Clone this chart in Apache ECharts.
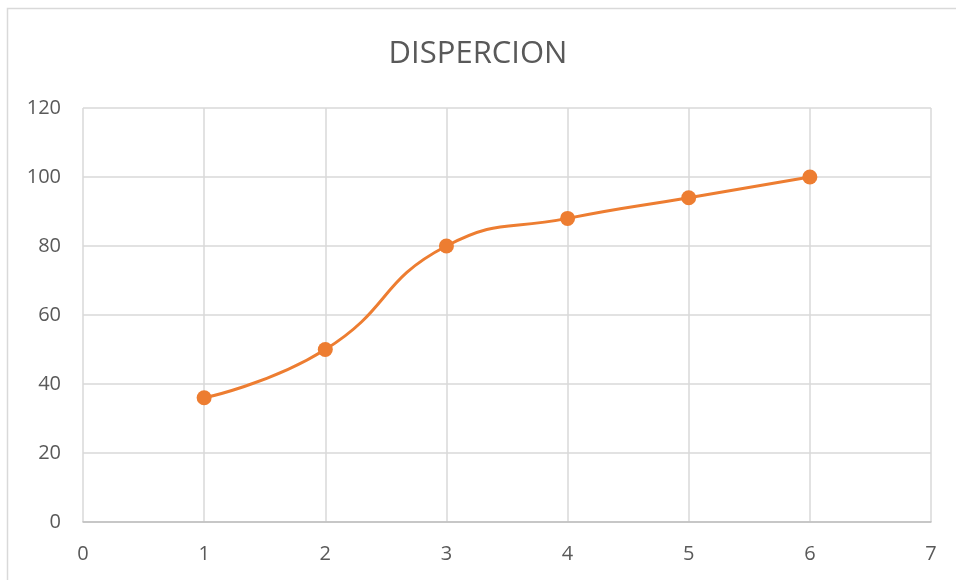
<!DOCTYPE html>
<html>
<head>
<meta charset="utf-8">
<script src="https://cdn.jsdelivr.net/npm/echarts@6/dist/echarts.min.js"></script>
<style>html,body{margin:0;padding:0;background:#fff;}#c{width:956px;height:580px;}</style>
</head>
<body>
<div id="c"></div>
<script>
const titleText = "DISPERCION";
const xValues = [1, 2, 3, 4, 5, 6];
const yValues = [36, 50, 80, 88, 94, 100];

const chart = echarts.init(document.getElementById('c'), null, {renderer: 'canvas'});
const txt = '#595959';
chart.setOption({
  animation: false,
  backgroundColor: '#fff',
  title: {
    text: titleText, left: 'center', top: 34,
    textStyle: {color: txt, fontSize: 31, fontWeight: 'normal', fontFamily: 'Open Sans'}
  },
  graphic: [{
    type: 'rect', shape: {x: 7.5, y: 8.5, width: 1000, height: 1000},
    style: {fill: 'none', stroke: '#d9d9d9', lineWidth: 1.5}, silent: true, z: -1
  }],
  grid: {left: 83, right: 25, top: 108, bottom: 58, containLabel: false},
  xAxis: {
    type: 'value', min: 0, max: 7, interval: 1,
    axisLine: {show: true, lineStyle: {color: '#bfbfbf', width: 1.5}},
    axisTick: {show: false},
    splitLine: {show: true, lineStyle: {color: '#d9d9d9', width: 1.5}},
    axisLabel: {color: txt, fontSize: 20, margin: 22, fontFamily: 'Open Sans'}
  },
  yAxis: {
    type: 'value', min: 0, max: 120, interval: 20,
    axisLine: {show: false},
    axisTick: {show: false},
    splitLine: {show: true, lineStyle: {color: '#d9d9d9', width: 1.5}},
    axisLabel: {color: txt, fontSize: 20, margin: 22, fontFamily: 'Open Sans'}
  },
  series: [{
    type: 'line',
    data: xValues.map((x, i) => [x, yValues[i]]),
    smooth: true,
    symbol: 'circle', symbolSize: 15,
    lineStyle: {color: '#ED7D31', width: 3},
    itemStyle: {color: '#ED7D31'}
  }]
});
</script>
</body>
</html>
